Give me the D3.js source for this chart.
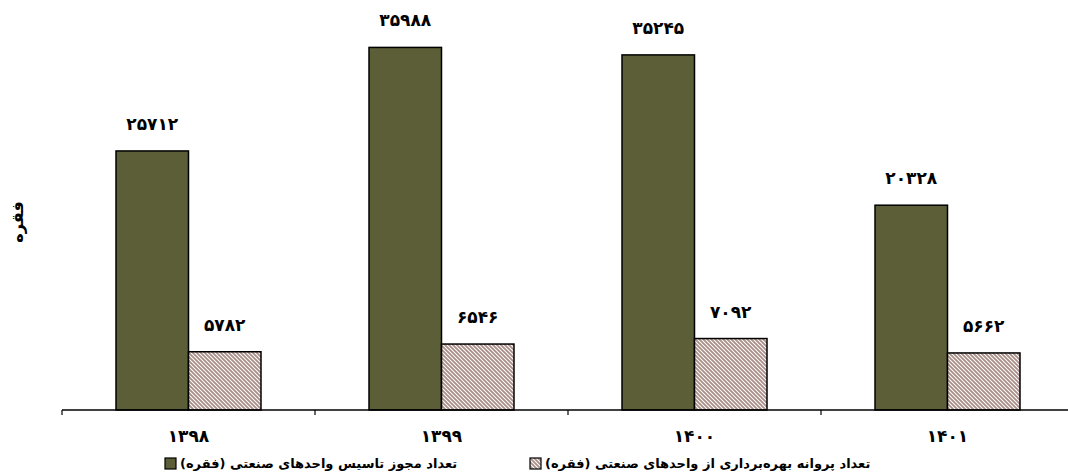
<!DOCTYPE html>
<html><head><meta charset="utf-8">
<script src="https://cdn.jsdelivr.net/npm/d3@7"></script>
<style>
html,body{margin:0;padding:0;background:#fff;}
text{font-family:"DejaVu Sans",sans-serif;font-weight:bold;fill:#000;}
</style></head>
<body>
<svg id="c" width="1068" height="475"></svg>
<script>
const categories = ["۱۳۹۸", "۱۳۹۹", "۱۴۰۰", "۱۴۰۱"];
const seriesNames = ["تعداد مجوز تاسیس واحدهای صنعتی (فقره)", "تعداد پروانه بهره‌برداری از واحدهای صنعتی (فقره)"];
const establishment = [25712, 35988, 35245, 20328];
const operation = [5782, 6546, 7092, 5662];
const yTitle = "فقره";

const toFa = n => String(n).replace(/\d/g, d => "۰۱۲۳۴۵۶۷۸۹"[+d]);

const svg = d3.select("#c");
const defs = svg.append("defs");
const pat = defs.append("pattern").attr("id","hatch").attr("patternUnits","userSpaceOnUse")
  .attr("width",4).attr("height",4);
pat.append("rect").attr("width",4).attr("height",4).attr("fill","#fff");
pat.append("path").attr("d","M-1,-1L5,5M-1,3L1,5M3,-1L5,1")
  .attr("stroke","#a88e86").attr("stroke-width",1.8);

const x0 = d3.scaleBand().domain(categories).range([62, 1074]).paddingInner(0).paddingOuter(0);
const x1 = d3.scaleBand().domain([0,1]).range([0, x0.bandwidth()]).paddingInner(0).paddingOuter(0.745);
const y = d3.scaleLinear().domain([0, 40000]).range([410, 7]);

const fills = ["#5b5e36", "url(#hatch)"];
const data = categories.map((c,i)=>({c, v:[establishment[i], operation[i]]}));

const g = svg.append("g");
data.forEach(d=>{
  d.v.forEach((v,k)=>{
    const bx = x0(d.c) + x1(k);
    g.append("rect").attr("x", bx).attr("y", y(v)).attr("width", x1.bandwidth())
      .attr("height", y(0)-y(v)).attr("fill", fills[k]).attr("stroke","#000").attr("stroke-width",1.5);
    g.append("text").attr("x", bx + x1.bandwidth()/2).attr("y", y(v)-26)
      .attr("text-anchor","middle").attr("dominant-baseline","middle")
      .attr("font-size",17).attr("letter-spacing",1).text(toFa(v));
  });
});

// x axis
const ax = svg.append("g");
ax.append("line").attr("x1",62).attr("x2",1068).attr("y1",y(0)).attr("y2",y(0)).attr("stroke","#000").attr("stroke-width",1.5);
const tickPos = categories.map(c=>x0(c)).concat([x0.range()[1]]);
tickPos.forEach(t=>{
  ax.append("line").attr("x1",t).attr("x2",t).attr("y1",y(0)).attr("y2",y(0)+5).attr("stroke","#000").attr("stroke-width",1.2);
});
categories.forEach(c=>{
  ax.append("text").attr("x", x0(c)+x0.bandwidth()/2).attr("y",437)
    .attr("text-anchor","middle").attr("dominant-baseline","middle")
    .attr("font-size",17).attr("letter-spacing",1.5).text(c);
});

// y title
svg.append("text").attr("transform","translate(18,222) rotate(-90)")
  .attr("text-anchor","middle").attr("dominant-baseline","middle").attr("font-size",16).text(yTitle);

// legend
const legX = [165, 530];
seriesNames.forEach((s,k)=>{
  svg.append("rect").attr("x",legX[k]).attr("y",458).attr("width",11).attr("height",11)
    .attr("fill",fills[k]).attr("stroke","#000").attr("stroke-width",1.2);
  svg.append("text").attr("x",legX[k]+15).attr("y",464).attr("direction","rtl")
    .attr("text-anchor","end").attr("dominant-baseline","middle").attr("font-size",13).text(s);
});
</script>
</body></html>
